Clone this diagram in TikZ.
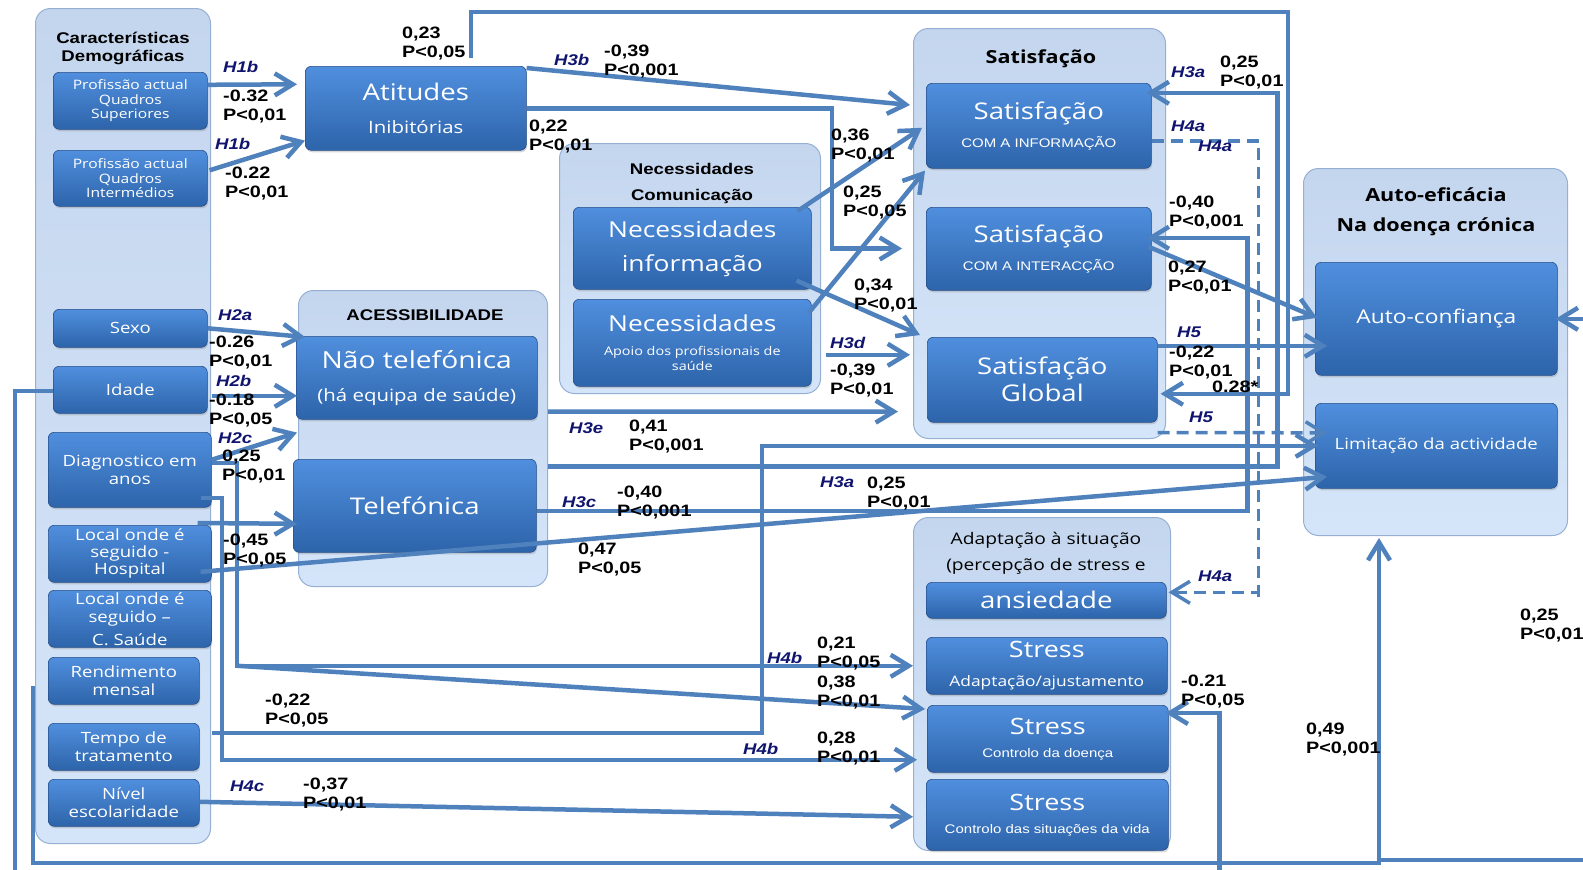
\documentclass[tikz,border=0pt]{standalone}
\usepackage{fontspec}
\setmainfont[FakeStretch=1.2]{Open Sans}
\newfontfamily\arialfont[FakeStretch=1.2]{Liberation Sans}
\usetikzlibrary{arrows.meta,calc,shadows}

\definecolor{lnkblue}{RGB}{79,129,189}
\definecolor{boxtop}{RGB}{80,143,222}
\definecolor{boxbot}{RGB}{45,100,170}
\definecolor{boxedge}{RGB}{38,78,138}
\definecolor{conttop}{RGB}{196,214,238}
\definecolor{contbot}{RGB}{213,229,249}
\definecolor{contedge}{RGB}{150,176,212}
\definecolor{hypnavy}{RGB}{16,20,110}

\begin{document}
\begin{tikzpicture}[x=1pt,y=-1pt,
		cont/.style={draw=contedge, line width=1pt, rounded corners=15pt, top color=conttop, bottom color=contbot, anchor=north west, inner sep=0pt},
		bbox/.style={draw=boxedge, line width=0.6pt, rounded corners=6pt, top color=boxtop, bottom color=boxbot, text=white, anchor=north west, inner sep=0pt, align=center, drop shadow={opacity=0.3, shadow xshift=0.8pt, shadow yshift=-2pt}},
		hdr/.style={font=\arialfont\bfseries\fontsize{15.5}{18}\selectfont, align=center, inner sep=0pt},
		hdrs/.style={font=\bfseries\fontsize{18}{30}\selectfont, align=center, inner sep=0pt},
		lnk/.style={draw=lnkblue, line width=4.5pt},
		arr/.style={lnk, -{Straight Barb[length=18pt,width=22pt]}},
		dsh/.style={arr, line width=3.5pt, dash pattern=on 12pt off 7pt},
		lab/.style={font=\arialfont\bfseries\fontsize{16.5}{18.5}\selectfont, anchor=north west, inner sep=0pt, align=left},
		hyp/.style={font=\arialfont\bfseries\itshape\fontsize{15.5}{18}\selectfont, text=hypnavy, anchor=north west, inner sep=0pt}]
		\path[use as bounding box, fill=white] (0,0) rectangle (1583,870);
		
		% groups
		\node[cont, minimum width=175pt, minimum height=835pt] (demo) at (35,8) {};
		\node[cont, minimum width=249pt, minimum height=296pt] (acess) at (298,290) {};
		\node[cont, minimum width=261pt, minimum height=250pt] (neccom) at (559,143) {};
		\node[cont, minimum width=252pt, minimum height=410pt] (satis) at (913,28) {};
		\node[cont, minimum width=257pt, minimum height=333pt] (adapt) at (913,517) {};
		\node[cont, minimum width=264pt, minimum height=367pt] (autoef) at (1303,168) {};
		
		\node[hdr] (demohd) at (123,48) {Características\\Demográficas};
		\node[hdr] (acesshd) at (425,315) {ACESSIBILIDADE};
		\node[hdr, font=\arialfont\bfseries\fontsize{15.5}{26}\selectfont] (neccomhd) at (692,183) {Necessidades\\Comunicação};
		\node[hdrs] (satishd) at (1041,59) {Satisfação};
		\node[hdrs] (autoefhd) at (1436,212) {Auto-eficácia\\Na doença crónica};
		\node[align=center, inner sep=0pt, font=\fontsize{16}{26}\selectfont] (adapthd) at (1046,553) {Adaptação à situação\\(percepção de stress e};
		
		% variables
		\node[bbox, minimum width=154pt, minimum height=57pt, font=\fontsize{13}{14.5}\selectfont] (profsup) at (53,72) {Profissão actual\\Quadros\\Superiores};
		\node[bbox, minimum width=154pt, minimum height=56pt, font=\fontsize{13}{14.5}\selectfont] (profint) at (53,150) {Profissão actual\\Quadros\\Intermédios};
		\node[bbox, minimum width=154pt, minimum height=38pt, font=\fontsize{15.5}{18}\selectfont] (sexo) at (53,309) {Sexo};
		\node[bbox, minimum width=154pt, minimum height=47pt, font=\fontsize{15.5}{18}\selectfont] (idade) at (53,366) {Idade};
		\node[bbox, minimum width=163pt, minimum height=75pt, font=\fontsize{15.5}{18}\selectfont] (diag) at (48,432) {Diagnostico em\\anos};
		\node[bbox, minimum width=163pt, minimum height=57pt, font=\fontsize{15.5}{17}\selectfont] (lochosp) at (48,525) {Local onde é\\seguido -\\Hospital};
		\node[bbox, minimum width=163pt, minimum height=57pt, font=\fontsize{15.5}{18}\selectfont] (loccs) at (48,590) {Local onde é\\seguido –\\[5pt]C. Saúde};
		\node[bbox, minimum width=151pt, minimum height=47pt, font=\fontsize{15.5}{18}\selectfont] (rend) at (48,657) {Rendimento\\mensal};
		\node[bbox, minimum width=151pt, minimum height=47pt, font=\fontsize{15.5}{18}\selectfont] (tempo) at (48,723) {Tempo de\\tratamento};
		\node[bbox, minimum width=151pt, minimum height=47pt, font=\fontsize{15.5}{18}\selectfont] (nivel) at (48,779) {Nível\\escolaridade};
		
		\node[bbox, minimum width=221pt, minimum height=84pt, font=\fontsize{17}{33}\selectfont] (atit) at (305,66) {{\fontsize{23}{27}\selectfont Atitudes}\\Inibitórias};
		\node[bbox, minimum width=241pt, minimum height=83pt, font=\fontsize{17}{33}\selectfont] (naotel) at (296,336) {{\fontsize{23.5}{27}\selectfont Não telefónica}\\(há equipa de saúde)};
		\node[bbox, minimum width=243pt, minimum height=93pt, font=\fontsize{23}{27}\selectfont] (tel) at (293,459) {Telefónica};
		\node[bbox, minimum width=238pt, minimum height=82pt, font=\fontsize{22}{34}\selectfont] (necinf) at (573,207) {Necessidades\\informação};
		\node[bbox, minimum width=238pt, minimum height=87pt, font=\fontsize{12}{15}\selectfont] (necapo) at (573,299) {{\fontsize{22}{26}\selectfont Necessidades}\\[9pt]Apoio dos profissionais de\\saúde};
		
		\node[bbox, minimum width=225pt, minimum height=85pt, font=\arialfont\fontsize{12.5}{28}\selectfont] (satinf) at (926,83) {{\normalfont\fontsize{23}{27}\selectfont Satisfação}\\COM A INFORMAÇÃO};
		\node[bbox, minimum width=225pt, minimum height=83pt, font=\arialfont\fontsize{12.5}{28}\selectfont] (satint) at (926,207) {{\normalfont\fontsize{23}{27}\selectfont Satisfação}\\COM A INTERACÇÃO};
		\node[bbox, minimum width=230pt, minimum height=85pt, font=\fontsize{23}{27}\selectfont] (satglob) at (927,337) {Satisfação\\Global};
		
		\node[bbox, minimum width=240pt, minimum height=36pt, font=\fontsize{23}{27}\selectfont] (ansied) at (926,582) {ansiedade};
		\node[bbox, minimum width=241pt, minimum height=57pt, font=\fontsize{14.5}{29}\selectfont] (stradapt) at (926,637) {{\fontsize{22.5}{27}\selectfont Stress}\\Adaptação/ajustamento};
		\node[bbox, minimum width=241pt, minimum height=67pt, font=\arialfont\fontsize{12.5}{23}\selectfont] (strdoen) at (927,705) {{\normalfont\fontsize{22.5}{27}\selectfont Stress}\\Controlo da doença};
		\node[bbox, minimum width=242pt, minimum height=71pt, font=\arialfont\fontsize{12.5}{23}\selectfont] (strvida) at (926,779) {{\normalfont\fontsize{22.5}{27}\selectfont Stress}\\Controlo das situações da vida};
		
		\node[bbox, minimum width=242pt, minimum height=113pt, font=\fontsize{19}{22}\selectfont] (autoconf) at (1315,262) {Auto-confiança};
		\node[bbox, minimum width=242pt, minimum height=85pt, font=\fontsize{15.5}{18}\selectfont] (limit) at (1315,403) {Limitação da actividade};
		
		% paths
		\draw[arr] ($(profsup.east)+(0,-16)$) -- ($(atit.west)+(-8,-24)$);
		\draw[arr] ($(profint.east)+(2,-8)$) -- ($(atit.south west)+(0,-10)$);
		\draw[arr] ($(atit.north west)+(166,-8)$) |- ($(satis.north east)+(122,-16)$) |- ($(satglob.east)+(3,14)$);
		\draw[arr] ($(atit.north east)+(0,2)$) -- ($(satis.north west)+(-3,77)$);
		\draw[arr] (atit.east) -| ($(satis.west)+(-81,15)$) -- ($(satis.west)+(-11,15)$);
		\draw[arr] ($(necinf.north east)+(-14,4)$) -- ($(satinf.west)+(-4,2)$);
		\draw[arr] ($(necapo.north east)+(-3,14)$) -- ($(satinf.south west)+(-1,2)$);
		\draw[arr] ($(necinf.south east)+(-15,-9)$) -- ($(satglob.north west)+(-7,-2)$);
		\draw[arr] ($(necapo.east)+(14,12)$) -- ($(satglob.west)+(-17,-25)$);
		\draw[arr] ($(acess.east)+(0,-27)$) -- ($(satglob.south west)+(-29,-11)$);
		\draw[arr] ($(acess.east)+(0,28)$) -| ($(satinf.east)+(126,0)$) |- ($(satinf.east)+(-5,-33)$);
		\draw[arr] ($(tel.east)+(0,5)$) -| ($(satint.east)+(96,0)$) |- ($(satint.east)+(-5,-11)$);
		\draw[arr] ($(satglob.east)+(0,-34)$) -- ($(autoconf.west)+(12,27)$);
		\draw[arr] ($(satint.east)+(-3,-2)$) -- ($(autoconf.west)+(2,-1)$);
		\draw[dsh] ($(satinf.east)+(0,15)$) -| ($(ansied.east)+(92,0)$) |- ($(ansied.east)+(2,-8)$);
		\draw[dsh] ($(satglob.south east)+(0,10)$) -- ($(limit.west)+(12,-13)$);
		\draw[arr] ($(tempo.east)+(12,-14)$) -| ($(limit.west)+(-553,0)$) -- ($(limit.west)+(3,0)$);
		\draw[arr] ($(diag.east)+(0,-7)$) -| ($(stradapt.west)+(-689,0)$) -- ($(stradapt.west)+(-13,0)$);
		\draw[arr] ($(diag.east)+(26,196)$) -- ($(strdoen.north west)+(-2,4)$);
		\draw[arr] ($(diag.east)+(-11,28)$) -| ($(strdoen.west)+(-705,21)$) -- ($(strdoen.west)+(-10,21)$);
		\draw[arr] ($(nivel.east)+(0,-1)$) -- ($(strvida.west)+(-13,2)$);
		\draw[arr] ($(lochosp.north east)+(-14,-2)$) -- ($(tel.west)+(4,18)$);
		\draw[arr] ($(lochosp.east)+(-11,18)$) -- ($(limit.west)+(12,31)$);
		\draw[arr] (sexo.east) -- ($(naotel.north west)+(9,1)$);
		\draw[arr] ($(idade.east)+(4,6)$) -- ($(naotel.west)+(1,18)$);
		\draw[arr] ($(diag.east)+(0,-10)$) -- ($(naotel.south west)+(1,13)$);
		\draw[arr] ($(idade.west)+(0,1)$) -| ($(demo.south west)+(-20,37)$) -| ($(strdoen.north east)+(51,8)$) -- ($(strdoen.north east)+(-3,8)$);
		\coordinate (rendout) at ($(rend.west)+(-15,5)$);
		\draw[arr] (rendout) |- ($(autoef.south west)+(76,327)$) -- ($(autoef.south west)+(76,2)$);
		\draw[lnk] ($(autoef.south east)+(40,324)$) -- ($(autoef.south west)+(76,324)$);
		\draw[arr] ($(autoconf.east)+(40,0)$) -- ($(autoconf.east)+(-2,0)$);
		
		% labels
		\foreach \nm/\px/\py/\tx in {h1ba/223/61/H1b, h1bb/215/138/H1b, h2a/218/309/H2a, h2b/216/375/H2b, h2c/218/432/H2c,
			h3b/554/54/H3b, h3d/830/337/H3d, h3e/569/422/H3e, h3c/562/496/H3c, h3am/820/476/H3a, h3at/1171/66/H3a,
			h4aa/1171/121/H4a, h4ab/1198/141/H4a, h4ac/1198/571/H4a, h4ba/767/652/H4b, h4bb/743/743/H4b,
			h4c/230/781/H4c, h5a/1177/327/H5, h5b/1189/412/H5}
			\node[hyp] (\nm) at (\px,\py) {\tx};
		\foreach \nm/\px/\py/\tx in {v032/223/90/{-0.32\\P<0,01}, v022a/225/167/{-0.22\\P<0,01}, v023/402/27/{0,23\\P<0,05},
			v039a/604/45/{-0,39\\P<0,001}, v022b/529/120/{0,22\\P<0,01}, v036/831/129/{0,36\\P<0,01},
			v025a/843/186/{0,25\\P<0,05}, v034/854/279/{0,34\\P<0,01}, v039b/830/364/{-0,39\\P<0,01},
			v041/629/420/{0,41\\P<0,001}, v040a/617/486/{-0,40\\P<0,001}, v047/578/543/{0,47\\P<0,05},
			v025b/867/477/{0,25\\P<0,01}, v026/209/336/{-0.26\\P<0,01}, v018/209/394/{-0.18\\P<0,05},
			v025c/222/450/{0,25\\P<0,01}, v045/223/534/{-0,45\\P<0,05}, v022c/265/694/{-0,22\\P<0,05},
			v037/303/778/{-0,37\\P<0,01}, v021/817/637/{0,21\\P<0,05}, v038/817/676/{0,38\\P<0,01},
			v028/817/732/{0,28\\P<0,01}, v021b/1181/675/{-0.21\\P<0,05}, v049/1306/723/{0,49\\P<0,001},
			v025d/1520/609/{0,25\\P<0,01}, v025e/1220/56/{0,25\\P<0,01}, v040b/1169/196/{-0,40\\P<0,001},
			v027/1168/261/{0,27\\P<0,01}, v022d/1169/346/{-0,22\\P<0,01}, v028s/1212/381/{0.28*}}
			\node[lab] (\nm) at (\px,\py) {\tx};
	\end{tikzpicture}
\end{document}
